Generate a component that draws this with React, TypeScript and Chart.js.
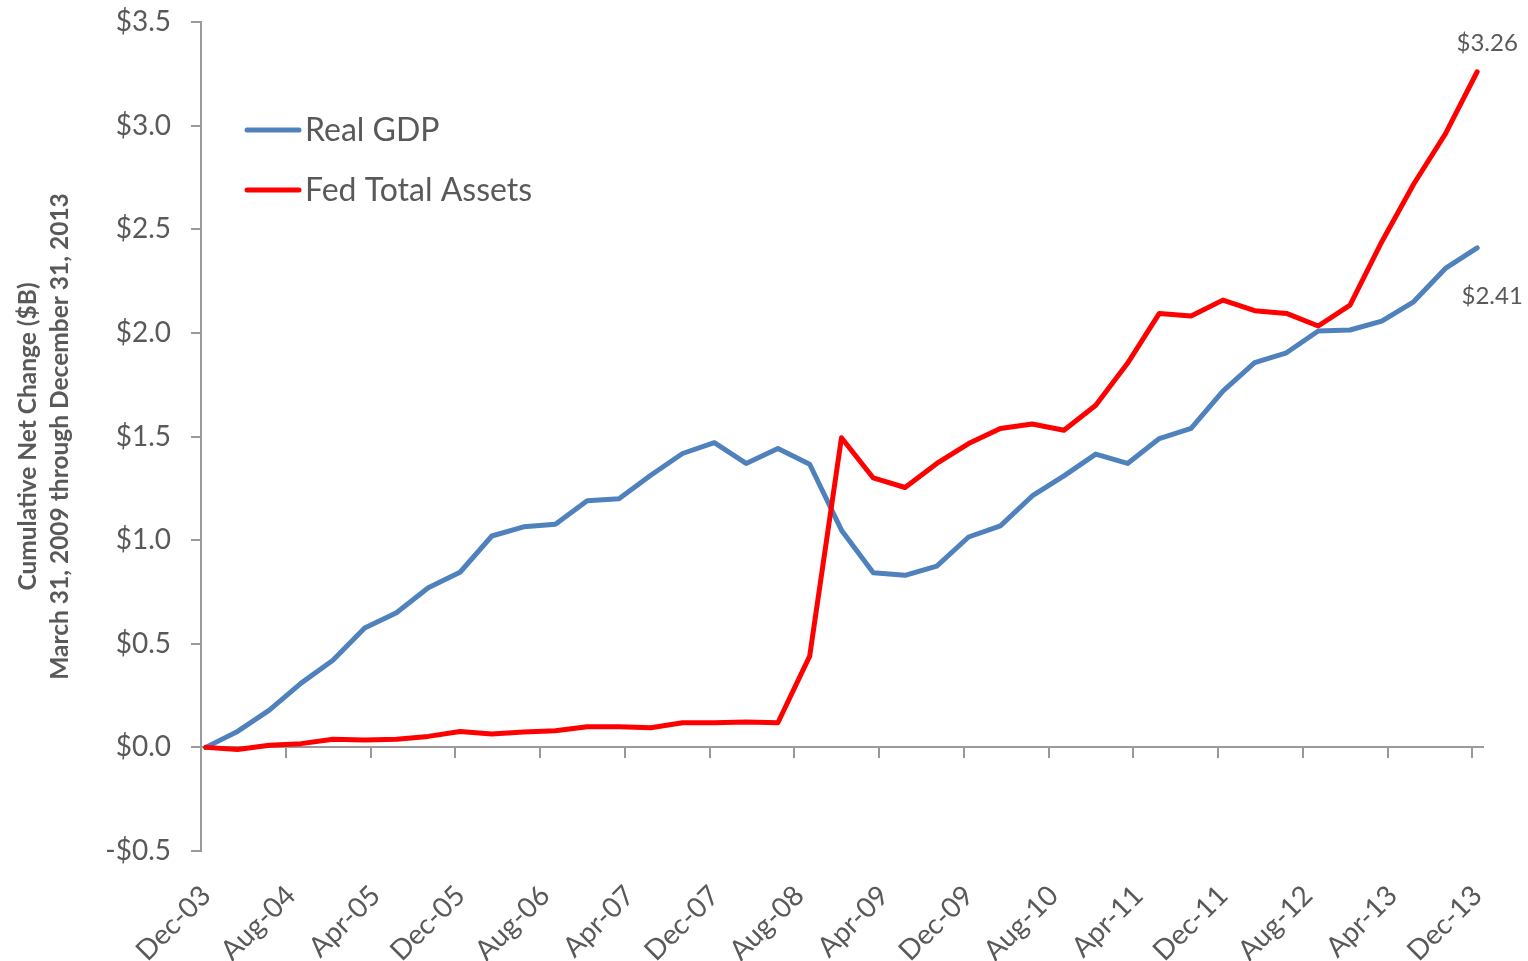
import React, { useEffect, useRef } from 'react';
import { Chart, registerables } from 'chart.js';

Chart.register(...registerables);

// ---------- data ----------
const QUARTERS = [
  'Dec-03', 'Mar-04', 'Jun-04', 'Sep-04', 'Dec-04', 'Mar-05', 'Jun-05', 'Sep-05',
  'Dec-05', 'Mar-06', 'Jun-06', 'Sep-06', 'Dec-06', 'Mar-07', 'Jun-07', 'Sep-07',
  'Dec-07', 'Mar-08', 'Jun-08', 'Sep-08', 'Dec-08', 'Mar-09', 'Jun-09', 'Sep-09',
  'Dec-09', 'Mar-10', 'Jun-10', 'Sep-10', 'Dec-10', 'Mar-11', 'Jun-11', 'Sep-11',
  'Dec-11', 'Mar-12', 'Jun-12', 'Sep-12', 'Dec-12', 'Mar-13', 'Jun-13', 'Sep-13',
  'Dec-13',
];

const REAL_GDP = [
  0, 0.077, 0.18, 0.31, 0.42, 0.576, 0.65, 0.77,
  0.845, 1.02, 1.064, 1.077, 1.19, 1.2, 1.313, 1.418,
  1.47, 1.37, 1.442, 1.366, 1.048, 0.843, 0.83, 0.875,
  1.015, 1.069, 1.213, 1.31, 1.415, 1.37, 1.49, 1.539,
  1.719, 1.856, 1.904, 2.009, 2.014, 2.057, 2.15, 2.311,
  2.41,
];

const FED_TOTAL_ASSETS = [
  0, -0.01, 0.01, 0.018, 0.039, 0.035, 0.039, 0.053,
  0.077, 0.064, 0.074, 0.08, 0.1, 0.1, 0.095, 0.119,
  0.119, 0.122, 0.119, 0.44, 1.494, 1.3, 1.254, 1.37,
  1.466, 1.539, 1.56, 1.53, 1.651, 1.853, 2.094, 2.081,
  2.158, 2.107, 2.094, 2.033, 2.134, 2.44, 2.717, 2.96,
  3.26,
];

const TICK_LABELS = [
  'Dec-03', 'Aug-04', 'Apr-05', 'Dec-05', 'Aug-06', 'Apr-07', 'Dec-07', 'Aug-08',
  'Apr-09', 'Dec-09', 'Aug-10', 'Apr-11', 'Dec-11', 'Aug-12', 'Apr-13', 'Dec-13',
];

const SERIES_NAMES = ['Real GDP', 'Fed Total Assets'];
const Y_TITLE = ['Cumulative Net Change ($B)', 'March 31, 2009 through December 31, 2013'];

// ---------- helpers / styles ----------
const MONTHS = ['Jan', 'Feb', 'Mar', 'Apr', 'May', 'Jun', 'Jul', 'Aug', 'Sep', 'Oct', 'Nov', 'Dec'];
const absMonth = (label: string) => {
  const [m, y] = label.split('-');
  return (2000 + Number(y)) * 12 + MONTHS.indexOf(m);
};
const BASE = absMonth(QUARTERS[0]);
const monthIndex = (label: string) => absMonth(label) - BASE;
const POINT_OFFSET = 0.45; // data dated mid-month

const BLUE = '#4F81BD';
const RED = '#FF0000';
const AXIS = '#9a9a9a';
const TEXT = '#595959';
const FONT = 'Lato, "Open Sans", sans-serif';

const toPoints = (vals: number[]) =>
  QUARTERS.map((q, i) => ({ x: monthIndex(q) + POINT_OFFSET, y: vals[i] }));

const setTicks = (scale: any) => {
  scale.ticks = TICK_LABELS.map((l) => ({ value: monthIndex(l) }));
};

const overlayPlugin = {
  id: 'overlay',
  afterDatasetsDraw(chart: any) {
    const ctx = chart.ctx;
    ctx.save();
    // legend
    const rows = [
      { ds: 0, y: 130 },
      { ds: 1, y: 190 },
    ];
    rows.forEach(({ ds, y }) => {
      const d = chart.data.datasets[ds];
      ctx.strokeStyle = d.borderColor;
      ctx.lineWidth = 5;
      ctx.lineCap = 'round';
      ctx.beginPath();
      ctx.moveTo(247, y);
      ctx.lineTo(299, y);
      ctx.stroke();
      ctx.fillStyle = TEXT;
      ctx.font = `32px ${FONT}`;
      ctx.textAlign = 'left';
      ctx.textBaseline = 'alphabetic';
      ctx.fillText(d.label, 305, y + 11);
    });
    // end value labels
    const ends = [
      { ds: 0, dx: 15, dy: 48 },
      { ds: 1, dx: 10, dy: -28 },
    ];
    ends.forEach(({ ds, dx, dy }) => {
      const meta = chart.getDatasetMeta(ds);
      const pt = meta.data[meta.data.length - 1];
      const vals = chart.data.datasets[ds].data;
      const v = vals[vals.length - 1].y;
      ctx.fillStyle = TEXT;
      ctx.font = `24px ${FONT}`;
      ctx.textAlign = 'center';
      ctx.textBaseline = 'middle';
      ctx.fillText('$' + v.toFixed(2), pt.x + dx, pt.y + dy);
    });
    ctx.restore();
  },
};

export default function App() {
  const ref = useRef<HTMLCanvasElement | null>(null);

  useEffect(() => {
    document.body.style.margin = '0';
    if (!ref.current) return;
    const chart = new Chart(ref.current, {
      type: 'line',
      data: {
        datasets: [
          {
            label: SERIES_NAMES[0],
            data: toPoints(REAL_GDP),
            borderColor: BLUE,
            backgroundColor: BLUE,
            borderWidth: 5,
            pointRadius: 0,
            tension: 0,
            borderCapStyle: 'round',
            borderJoinStyle: 'round',
            order: 1,
          },
          {
            label: SERIES_NAMES[1],
            data: toPoints(FED_TOTAL_ASSETS),
            borderColor: RED,
            backgroundColor: RED,
            borderWidth: 5,
            pointRadius: 0,
            tension: 0,
            borderCapStyle: 'round',
            borderJoinStyle: 'round',
            order: 0,
          },
        ],
      },
      options: {
        responsive: false,
        animation: false,
        parsing: false,
        layout: { padding: { top: 22, right: 45, bottom: 0, left: 0 } },
        plugins: {
          legend: { display: false },
          tooltip: { enabled: false },
        },
        scales: {
          x: {
            type: 'linear',
            position: { y: 0 },
            min: 0,
            max: 121,
            afterBuildTicks: setTicks,
            ticks: { display: false },
            grid: {
              drawOnChartArea: false,
              drawTicks: true,
              tickLength: 10,
              color: AXIS,
              lineWidth: 2,
            },
            border: { display: true, color: AXIS, width: 2 },
          },
          x2: {
            type: 'linear',
            position: 'bottom',
            axis: 'x',
            min: 0,
            max: 121,
            afterBuildTicks: setTicks,
            ticks: {
              autoSkip: false,
              minRotation: 45,
              maxRotation: 45,
              padding: 28,
              labelOffset: 5,
              color: TEXT,
              font: { family: FONT, size: 28 },
              callback: (_v: any, i: number) => TICK_LABELS[i],
            },
            grid: { display: false, drawTicks: false },
            border: { display: false },
            afterFit: (s: any) => {
              s.height = 110;
              s.paddingRight = 0;
            },
          },
          y: {
            type: 'linear',
            min: -0.5,
            max: 3.5,
            ticks: {
              stepSize: 0.5,
              padding: 20,
              color: TEXT,
              font: { family: FONT, size: 28 },
              callback: (v: any) => {
                const n = Number(v);
                return (n < 0 ? '-$' : '$') + Math.abs(n).toFixed(1);
              },
            },
            grid: {
              drawOnChartArea: false,
              drawTicks: true,
              tickLength: 10,
              color: AXIS,
              lineWidth: 2,
            },
            border: { display: true, color: AXIS, width: 2 },
            title: {
              display: true,
              text: Y_TITLE,
              color: TEXT,
              font: { family: FONT, size: 24.5, weight: 'bold', lineHeight: 1.306 },
              padding: { top: 12, bottom: 0 },
            },
            afterFit: (s: any) => {
              s.width = 201;
              s.paddingTop = 0;
              s.paddingBottom = 0;
            },
          },
        },
      } as any,
      plugins: [overlayPlugin],
    });
    return () => chart.destroy();
  }, []);

  return (
    <div style={{ width: 1528, height: 961, background: '#fff' }}>
      <canvas ref={ref} width={1528} height={961} style={{ display: 'block' }} />
    </div>
  );
}
